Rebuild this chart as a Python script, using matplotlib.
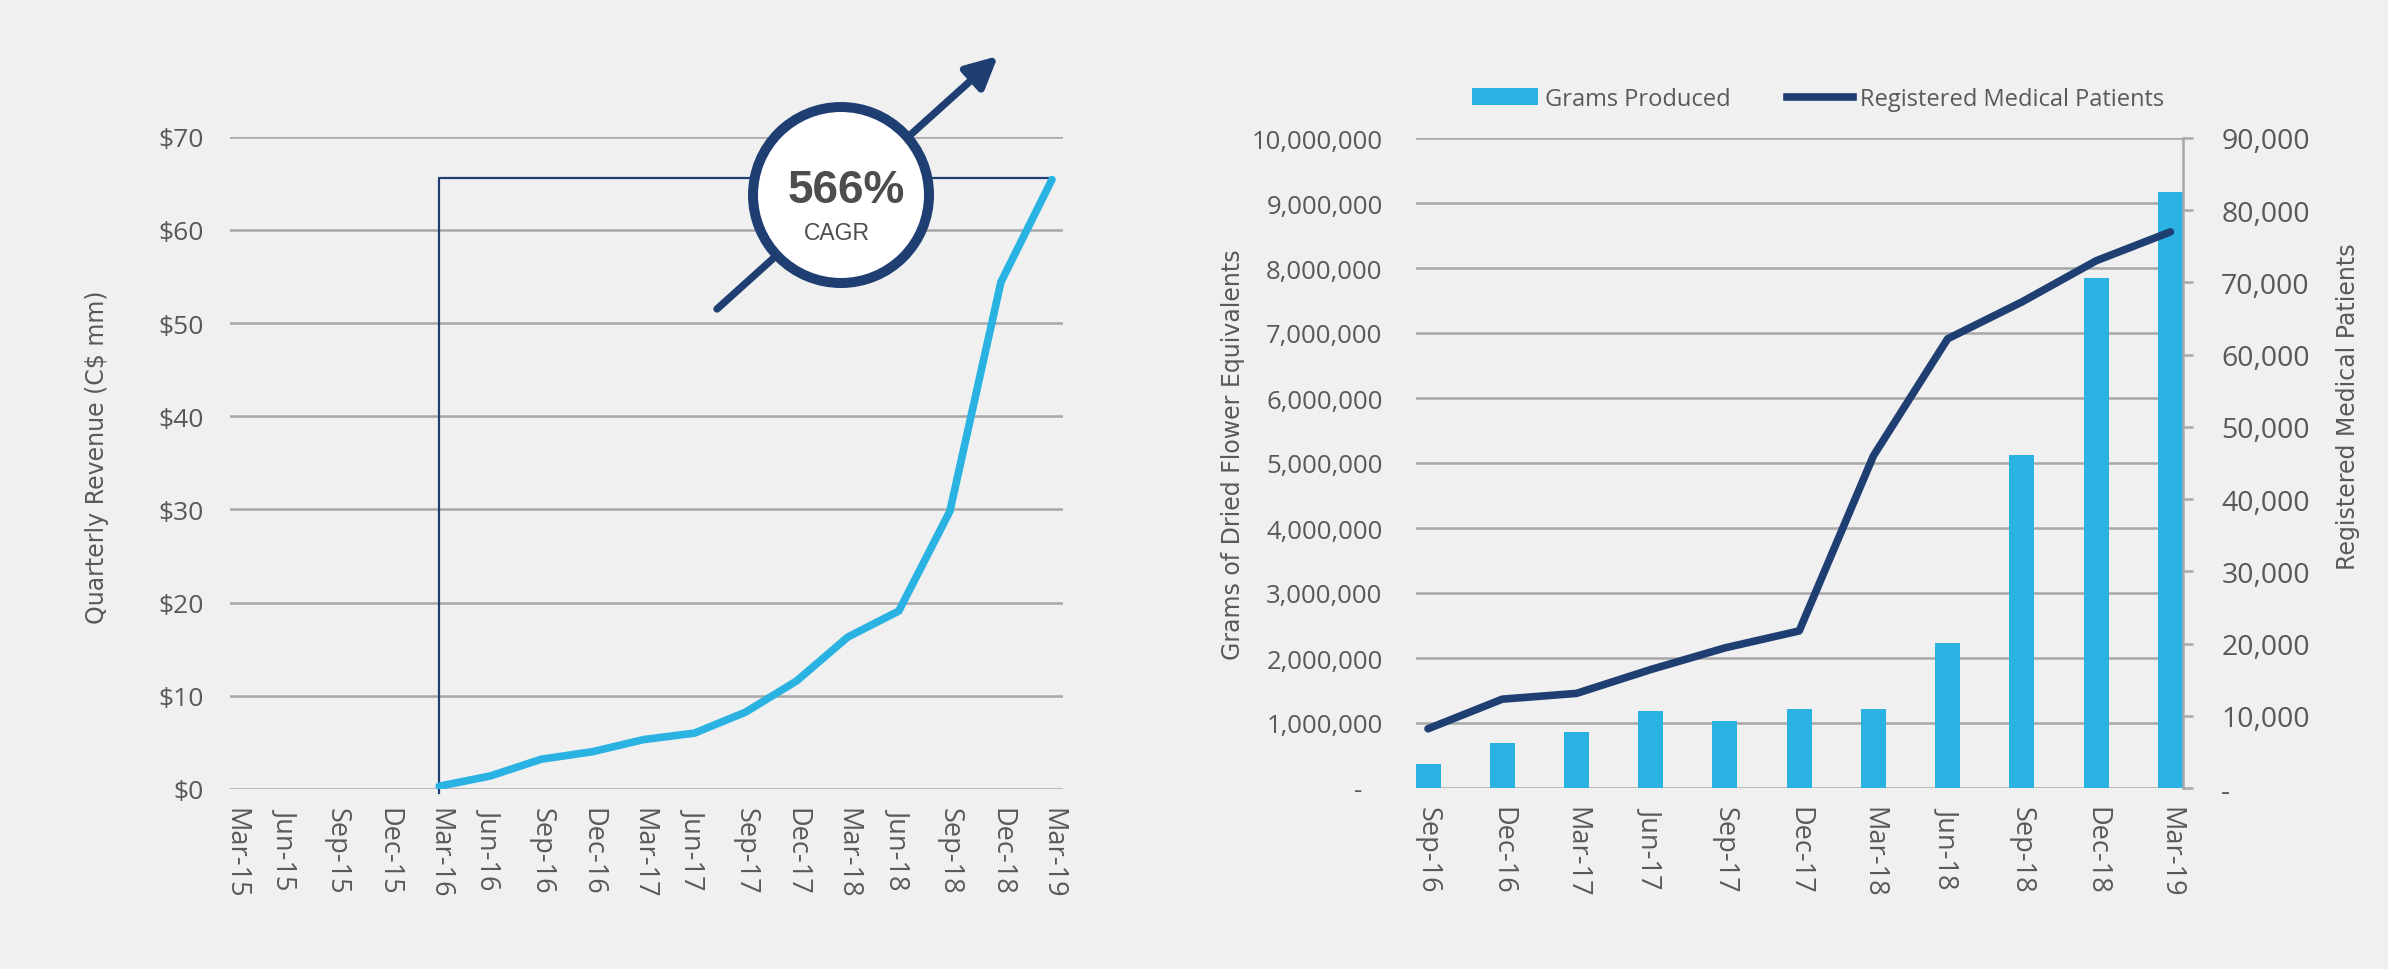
import numpy as np
import matplotlib
matplotlib.use("Agg")
import matplotlib.pyplot as plt
from matplotlib.patches import Ellipse, FancyArrowPatch, Patch
from matplotlib.lines import Line2D
from matplotlib.ticker import FuncFormatter

plt.rcParams['font.family'] = ['Open Sans', 'DejaVu Sans']

# left chart: quarterly revenue (C$ mm)
rev_quarters = ["Mar-15", "Jun-15", "Sep-15", "Dec-15", "Mar-16", "Jun-16", "Sep-16",
                "Dec-16", "Mar-17", "Jun-17", "Sep-17", "Dec-17", "Mar-18", "Jun-18",
                "Sep-18", "Dec-18", "Mar-19"]
revenue = [np.nan, np.nan, np.nan, np.nan, 0.3, 1.4, 3.2, 4.0, 5.3, 6.0, 8.25, 11.6,
           16.3, 19.1, 29.8, 54.4, 65.4]
cagr_text = "566%"
cagr_level = 65.6

# right chart: grams produced & registered patients
prod_quarters = ["Sep-16", "Dec-16", "Mar-17", "Jun-17", "Sep-17", "Dec-17", "Mar-18",
                 "Jun-18", "Sep-18", "Dec-18", "Mar-19"]
grams = [370000, 690000, 860000, 1180000, 1030000, 1220000, 1220000, 2230000,
         5130000, 7850000, 9170000]
patients = [8200, 12300, 13100, 16400, 19400, 21750, 46000, 62200, 67300, 73000, 77000]

BG = "#F0F0F0"
CYAN = "#2AB3E2"
NAVY = "#1F3F73"
GRID = "#A8A8A8"
TXT = "#595959"

W, H = 2388, 970
fig = plt.figure(figsize=(W / 100, H / 100), dpi=100, facecolor=BG)

# ---------- left chart ----------
ax = fig.add_axes([230 / W, 1 - 790 / H, 833 / W, 652.3 / H], facecolor=BG)
x = np.arange(len(rev_quarters))
ax.set_xlim(-0.098, 16.216)
ax.set_ylim(0, 70)
ax.set_yticks(np.arange(0, 71, 10))
ax.yaxis.set_major_formatter(FuncFormatter(lambda v, p: f"${v:.0f}"))
ax.set_xticks(x)
ax.set_xticklabels(rev_quarters, rotation=270, fontsize=19.5, color=TXT)
ax.tick_params(axis='x', length=0, pad=13)
ax.tick_params(axis='y', length=0, pad=19, labelsize=19, labelcolor=TXT)
ax.grid(axis='y', color=GRID, linewidth=1.8)
ax.set_axisbelow(True)
for s in ax.spines.values():
    s.set_visible(False)
ax.plot(x, revenue, color=CYAN, linewidth=5.5, solid_capstyle='round', zorder=3)
# elbow connector marking the CAGR period
ax.plot([4, 4, 16, 16], [-0.4, cagr_level, cagr_level, cagr_level - 0.5],
        color=NAVY, linewidth=1.6, clip_on=False, zorder=2)
ax.set_ylabel("Quarterly Revenue (C$ mm)", family='DejaVu Sans', fontsize=17, color=TXT)
ax.yaxis.set_label_coords(-0.145, 0.51)

# CAGR badge
arrow = FancyArrowPatch(posA=(717 / W, 1 - 310 / H), posB=(998 / W, 1 - 57 / H),
                        transform=fig.transFigure, arrowstyle="-|>,head_length=19,head_width=9.5",
                        mutation_scale=1, color=NAVY, linewidth=5.3, shrinkA=0, shrinkB=0, zorder=5)
fig.add_artist(arrow)
badge = Ellipse((841 / W, 1 - 196 / H), 176 / W, 176 / H, transform=fig.transFigure,
                facecolor="white", edgecolor=NAVY, linewidth=7.2, zorder=6)
fig.add_artist(badge)
fig.text(846 / W, 1 - 191 / H, cagr_text, ha='center', va='center', fontsize=33,
         fontweight='bold', family='Liberation Sans', color="#4D4D4D", zorder=7)
fig.text(837 / W, 1 - 234 / H, "CAGR", ha='center', va='center', fontsize=16.5,
         family='Liberation Sans', color="#4D4D4D", zorder=7)

# ---------- right chart ----------
ax1 = fig.add_axes([1416 / W, 1 - 789 / H, 767 / W, 650 / H], facecolor=BG)
xp = np.arange(len(prod_quarters))
ax1.bar(xp, grams, width=0.337, color=CYAN, zorder=2)
ax1.set_xlim(-0.162, 10.17)
ax1.set_ylim(0, 10000000)
ax1.set_yticks(np.arange(0, 10000001, 1000000))
ax1.yaxis.set_major_formatter(FuncFormatter(lambda v, p: "-   " if v == 0 else f"{v:,.0f}"))
ax1.set_xticks(xp)
ax1.set_xticklabels(prod_quarters, rotation=270, fontsize=19.5, color=TXT)
ax1.tick_params(axis='x', length=0, pad=13)
ax1.tick_params(axis='y', length=0, pad=24, labelsize=18.5, labelcolor=TXT)
ax1.grid(axis='y', color=GRID, linewidth=1.8)
ax1.set_axisbelow(True)
for s in ax1.spines.values():
    s.set_visible(False)
ax1.set_ylabel("Grams of Dried Flower Equivalents", family='DejaVu Sans', fontsize=17, color=TXT)
ax1.yaxis.set_label_coords(-0.223, 0.514)

ax2 = ax1.twinx()
ax2.plot(xp, patients, color=NAVY, linewidth=5.5, solid_capstyle='round', zorder=3)
ax2.set_ylim(0, 90000)
ax2.set_yticks(np.arange(0, 90001, 10000))
ax2.yaxis.set_major_formatter(FuncFormatter(lambda v, p: "-" if v == 0 else f"{v:,.0f}"))
ax2.tick_params(axis='y', direction='out', length=7.5, width=1.8, color=GRID, pad=20,
                labelsize=20.5, labelcolor=TXT)
for k, s in ax2.spines.items():
    s.set_visible(k == 'right')
ax2.spines['right'].set_color(GRID)
ax2.spines['right'].set_linewidth(1.8)
ax2.set_ylabel("Registered Medical Patients", family='DejaVu Sans', fontsize=17, color=TXT)
ax2.yaxis.set_label_coords(1.1995, 0.588)

handles = [Patch(facecolor=CYAN, edgecolor='none'), Line2D([], [], color=NAVY, linewidth=5.5)]
fig.legend(handles, ["Grams Produced", "Registered Medical Patients"], loc='center',
           bbox_to_anchor=(1818 / W, 1 - 100 / H), ncol=2, frameon=False, fontsize=17,
           handlelength=2.8, handletextpad=0.3, columnspacing=2.4, labelcolor=TXT)

fig.savefig("out.png", dpi=100, facecolor=BG)
